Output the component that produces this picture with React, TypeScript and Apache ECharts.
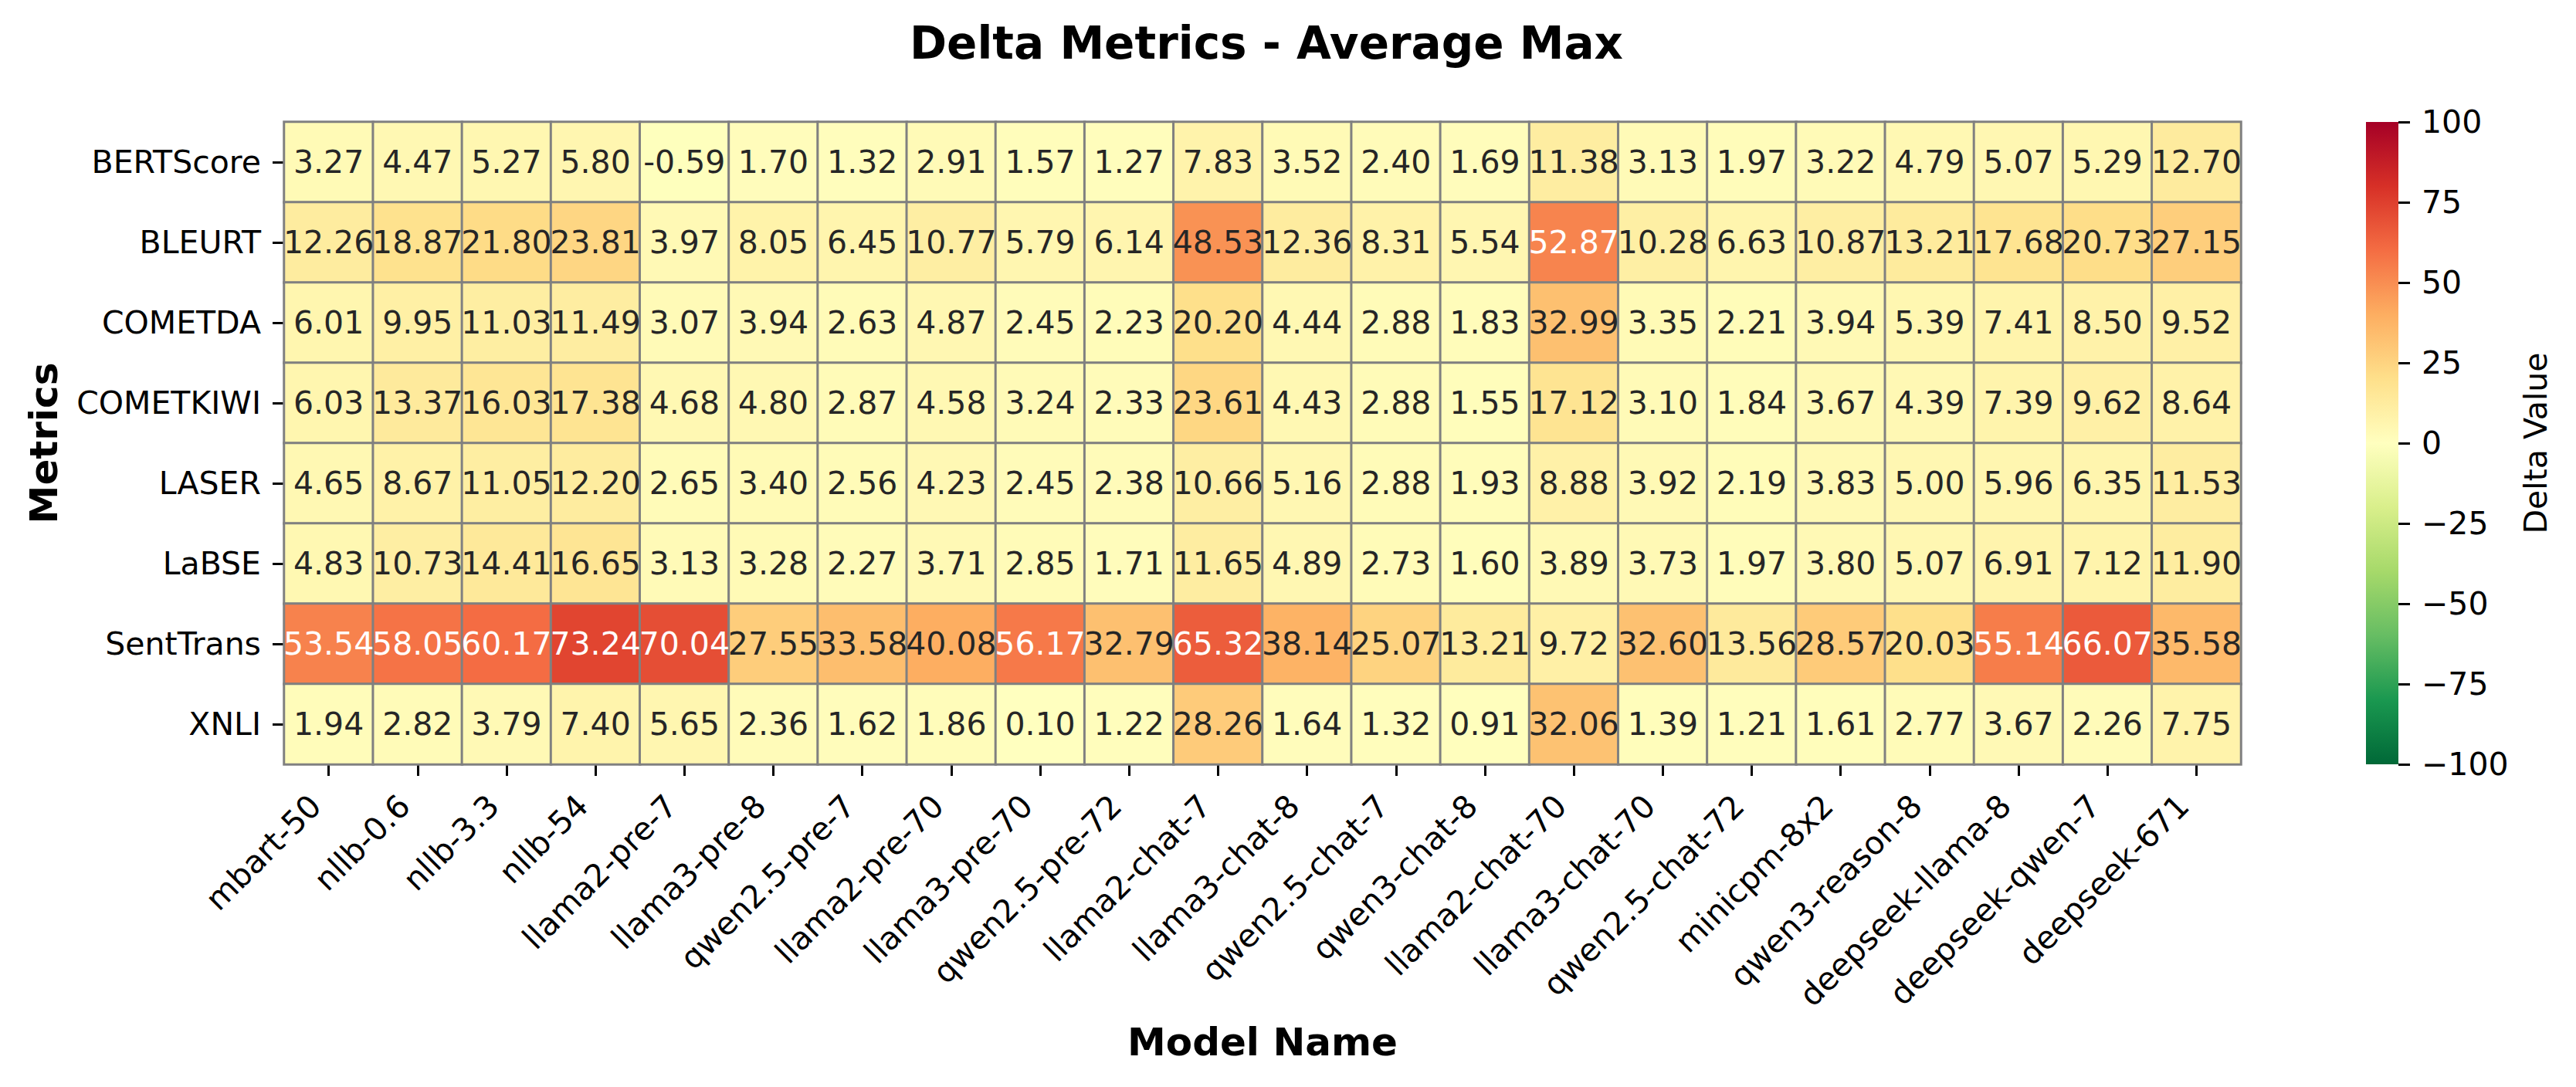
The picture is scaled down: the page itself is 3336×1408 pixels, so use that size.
import React, { useEffect, useRef } from "react";
import * as echarts from "echarts";

const models = [
  "mbart-50", "nllb-0.6", "nllb-3.3", "nllb-54", "llama2-pre-7", "llama3-pre-8",
  "qwen2.5-pre-7", "llama2-pre-70", "llama3-pre-70", "qwen2.5-pre-72", "llama2-chat-7",
  "llama3-chat-8", "qwen2.5-chat-7", "qwen3-chat-8", "llama2-chat-70", "llama3-chat-70",
  "qwen2.5-chat-72", "minicpm-8x2", "qwen3-reason-8", "deepseek-llama-8", "deepseek-qwen-7",
  "deepseek-671",
];
const metrics = ["BERTScore", "BLEURT", "COMETDA", "COMETKIWI", "LASER", "LaBSE", "SentTrans", "XNLI"];

const bertscore = [3.27, 4.47, 5.27, 5.8, -0.59, 1.7, 1.32, 2.91, 1.57, 1.27, 7.83, 3.52, 2.4, 1.69, 11.38, 3.13, 1.97, 3.22, 4.79, 5.07, 5.29, 12.7];
const bleurt = [12.26, 18.87, 21.8, 23.81, 3.97, 8.05, 6.45, 10.77, 5.79, 6.14, 48.53, 12.36, 8.31, 5.54, 52.87, 10.28, 6.63, 10.87, 13.21, 17.68, 20.73, 27.15];
const cometda = [6.01, 9.95, 11.03, 11.49, 3.07, 3.94, 2.63, 4.87, 2.45, 2.23, 20.2, 4.44, 2.88, 1.83, 32.99, 3.35, 2.21, 3.94, 5.39, 7.41, 8.5, 9.52];
const cometkiwi = [6.03, 13.37, 16.03, 17.38, 4.68, 4.8, 2.87, 4.58, 3.24, 2.33, 23.61, 4.43, 2.88, 1.55, 17.12, 3.1, 1.84, 3.67, 4.39, 7.39, 9.62, 8.64];
const laser = [4.65, 8.67, 11.05, 12.2, 2.65, 3.4, 2.56, 4.23, 2.45, 2.38, 10.66, 5.16, 2.88, 1.93, 8.88, 3.92, 2.19, 3.83, 5.0, 5.96, 6.35, 11.53];
const labse = [4.83, 10.73, 14.41, 16.65, 3.13, 3.28, 2.27, 3.71, 2.85, 1.71, 11.65, 4.89, 2.73, 1.6, 3.89, 3.73, 1.97, 3.8, 5.07, 6.91, 7.12, 11.9];
const senttrans = [53.54, 58.05, 60.17, 73.24, 70.04, 27.55, 33.58, 40.08, 56.17, 32.79, 65.32, 38.14, 25.07, 13.21, 9.72, 32.6, 13.56, 28.57, 20.03, 55.14, 66.07, 35.58];
const xnli = [1.94, 2.82, 3.79, 7.4, 5.65, 2.36, 1.62, 1.86, 0.1, 1.22, 28.26, 1.64, 1.32, 0.91, 32.06, 1.39, 1.21, 1.61, 2.77, 3.67, 2.26, 7.75];

const colorbarTicks = [-100, -75, -50, -25, 0, 25, 50, 75, 100];
const vmin = -100;
const vmax = 100;

// RdYlGn reversed (low -> high)
const palette = [
  "#006837", "#1a9850", "#66bd63", "#a6d96a", "#d9ef8b", "#ffffbf",
  "#fee08b", "#fdae61", "#f46d43", "#d73027", "#a50026",
];

function hexToRgb(h: string) {
  const n = parseInt(h.slice(1), 16);
  return [(n >> 16) & 255, (n >> 8) & 255, n & 255];
}

function cmap(v: number) {
  let t = (v - vmin) / (vmax - vmin);
  t = Math.max(0, Math.min(1, t));
  const pos = t * (palette.length - 1);
  const i = Math.min(palette.length - 2, Math.floor(pos));
  const f = pos - i;
  const a = hexToRgb(palette[i]);
  const b = hexToRgb(palette[i + 1]);
  return a.map((c, k) => c + (b[k] - c) * f);
}

function textColorFor(v: number) {
  const rgb = cmap(v).map((c) => {
    const s = c / 255;
    return s <= 0.03928 ? s / 12.92 : Math.pow((s + 0.055) / 1.055, 2.4);
  });
  const lum = 0.2126 * rgb[0] + 0.7152 * rgb[1] + 0.0722 * rgb[2];
  return lum > 0.408 ? "#262626" : "#ffffff";
}

const FONT = "DejaVu Sans";

export default function App() {
  const ref = useRef<HTMLDivElement>(null);
  useEffect(() => {
    if (!ref.current) return;
    const chart = echarts.init(ref.current, undefined, { renderer: "svg" });
    const rows = [bertscore, bleurt, cometda, cometkiwi, laser, labse, senttrans, xnli];
    const data: any[] = [];
    rows.forEach((row, i) => {
      row.forEach((v, j) => {
        data.push({ value: [j, i, v], label: { color: textColorFor(v) } });
      });
    });

    const gridL = 368, gridT = 158, gridW = 2534, gridH = 832;
    const cbL = 3064, cbW = 42;

    chart.setOption({
      animation: false,
      backgroundColor: "#ffffff",
      textStyle: { fontFamily: FONT },
      title: {
        text: "Delta Metrics - Average Max",
        left: gridL + gridW / 2,
        textAlign: "center",
        top: 22,
        textStyle: { fontFamily: FONT, fontSize: 58, fontWeight: "bold", color: "#000" },
      },
      grid: [
        { left: gridL, top: gridT, width: gridW, height: gridH },
        { left: cbL, top: gridT, width: cbW, height: gridH },
      ],
      xAxis: [
        {
          type: "category",
          gridIndex: 0,
          data: models,
          axisLine: { show: false },
          axisTick: { show: true, alignWithLabel: true, length: 15, lineStyle: { color: "#000", width: 3 } },
          axisLabel: {
            rotate: 45,
            interval: 0,
            fontSize: 41,
            color: "#000",
            margin: 30,
            padding: [0, 24, 0, 0],
            fontFamily: FONT,
          },
          splitLine: { show: false },
        },
        {
          type: "category",
          gridIndex: 1,
          data: [""],
          show: false,
        },
      ],
      yAxis: [
        {
          type: "category",
          gridIndex: 0,
          data: metrics,
          inverse: true,
          axisLine: { show: false },
          axisTick: { show: true, alignWithLabel: true, length: 15, lineStyle: { color: "#000", width: 3 } },
          axisLabel: { fontSize: 41, color: "#000", margin: 30, fontFamily: FONT },
          splitLine: { show: false },
        },
        {
          type: "value",
          gridIndex: 1,
          min: vmin,
          max: vmax,
          interval: 25,
          position: "right",
          axisLine: { show: false },
          axisTick: { show: true, length: 15, lineStyle: { color: "#000", width: 3 } },
          axisLabel: {
            fontSize: 41,
            color: "#000",
            margin: 30,
            fontFamily: FONT,
            formatter: (v: number) => (v < 0 ? "\u2212" + Math.abs(v) : String(v)),
          },
          splitLine: { show: false },
        },
      ],
      visualMap: {
        show: false,
        type: "continuous",
        min: vmin,
        max: vmax,
        seriesIndex: 0,
        dimension: 2,
        inRange: { color: palette },
      },
      graphic: [
        {
          type: "rect",
          left: cbL,
          top: gridT,
          shape: { x: 0, y: 0, width: cbW, height: gridH },
          style: {
            fill: new echarts.graphic.LinearGradient(
              0, 1, 0, 0,
              palette.map((c, i) => ({ offset: i / (palette.length - 1), color: c }))
            ),
          },
          z: -1,
        },
        {
          type: "text",
          x: 57,
          y: gridT + gridH / 2,
          rotation: Math.PI / 2,
          style: {
            text: "Metrics",
            fontFamily: FONT,
            fontSize: 50,
            fontWeight: "bold",
            fill: "#000",
            align: "center",
            verticalAlign: "middle",
          },
        },
        {
          type: "text",
          x: gridL + gridW / 2,
          y: 1350,
          style: {
            text: "Model Name",
            fontFamily: FONT,
            fontSize: 50,
            fontWeight: "bold",
            fill: "#000",
            align: "center",
            verticalAlign: "middle",
          },
        },
        {
          type: "text",
          x: 3284,
          y: gridT + gridH / 2,
          rotation: Math.PI / 2,
          style: {
            text: "Delta Value",
            fontFamily: FONT,
            fontSize: 41,
            fill: "#000",
            align: "center",
            verticalAlign: "middle",
          },
        },
      ],
      series: [
        {
          type: "heatmap",
          xAxisIndex: 0,
          yAxisIndex: 0,
          data,
          label: {
            show: true,
            fontSize: 41,
            fontFamily: FONT,
            formatter: (p: any) => p.value[2].toFixed(2),
          },
          itemStyle: { borderColor: "#808080", borderWidth: 3 },
          emphasis: { disabled: true },
        },
      ],
    });
    return () => chart.dispose();
  }, []);

  return (
    <div
      ref={ref}
      style={{ position: "fixed", left: 0, top: 0, width: 3336, height: 1408, background: "#fff" }}
    />
  );
}
